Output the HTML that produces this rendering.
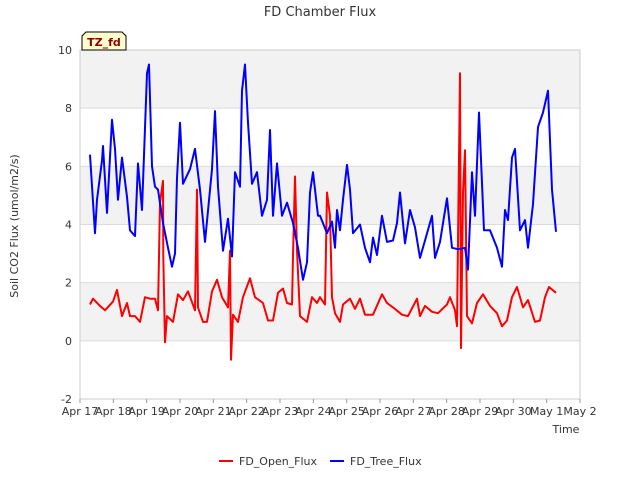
<!DOCTYPE html>
<html><head><meta charset="utf-8"><style>
body{margin:0;background:#fff;font-family:"Liberation Sans","DejaVu Sans",sans-serif}
</style></head><body>
<svg id="c" width="640" height="480" xmlns="http://www.w3.org/2000/svg" font-family="DejaVu Sans, Liberation Sans, sans-serif">
<text x="320" y="16" text-anchor="middle" font-size="13" fill="#333">FD Chamber Flux</text>
<g id="plot"></g>
<text x="566" y="433" text-anchor="middle" font-size="11" fill="#333">Time</text>
<text transform="translate(18,226) rotate(-90)" text-anchor="middle" font-size="11" fill="#333">Soil CO2 Flux (umol/m2/s)</text>
<g>
<path d="M82,36 L86,32 L122,32 L126,36 L126,50 L82,50 Z" fill="#ffffcc" stroke="#000" stroke-width="1"/>
<text x="104" y="46" text-anchor="middle" font-size="11" font-weight="bold" fill="#8b0000">TZ_fd</text>
</g>
<g>
<g><line x1="219" y1="461" x2="233" y2="461" stroke="#f00" stroke-width="2"/><text x="239" y="465" font-size="11" fill="#333">FD_Open_Flux</text></g>
<g><line x1="330" y1="461" x2="344" y2="461" stroke="#00f" stroke-width="2"/><text x="350" y="465" font-size="11" fill="#333">FD_Tree_Flux</text></g>
</g>
</svg>
<script>
const xTickLabels=["Apr 17","Apr 18","Apr 19","Apr 20","Apr 21","Apr 22","Apr 23","Apr 24","Apr 25","Apr 26","Apr 27","Apr 28","Apr 29","Apr 30","May 1","May 2"];
const yTicks=[-2,0,2,4,6,8,10];
const treeDays=[0.30,0.45,0.51,0.66,0.69,0.81,0.96,1.05,1.14,1.26,1.41,1.50,1.65,1.74,1.86,2.01,2.07,2.16,2.25,2.34,2.49,2.64,2.76,2.85,2.91,3.00,3.09,3.30,3.45,3.60,3.75,3.96,4.05,4.14,4.29,4.44,4.56,4.65,4.80,4.86,4.95,5.04,5.16,5.31,5.46,5.61,5.70,5.79,5.91,6.06,6.21,6.39,6.54,6.69,6.81,6.90,6.99,7.14,7.20,7.41,7.56,7.65,7.71,7.80,7.89,8.01,8.10,8.19,8.40,8.55,8.70,8.79,8.91,9.06,9.21,9.39,9.51,9.60,9.75,9.90,10.05,10.20,10.35,10.56,10.65,10.80,11.01,11.16,11.34,11.55,11.64,11.76,11.85,11.97,12.12,12.30,12.51,12.66,12.75,12.84,12.96,13.05,13.20,13.35,13.44,13.59,13.74,13.89,14.04,14.16,14.28];
const treeVals=[6.4,3.7,4.85,6.2,6.7,4.4,7.6,6.6,4.85,6.3,4.95,3.8,3.6,6.1,4.5,9.2,9.5,6.0,5.3,5.2,4.05,3.2,2.55,3.0,5.6,7.5,5.4,5.9,6.6,5.2,3.4,5.9,7.9,5.3,3.1,4.2,2.9,5.8,5.3,8.6,9.5,7.5,5.4,5.8,4.3,4.85,7.25,4.3,6.1,4.3,4.75,4.05,3.2,2.1,2.7,5.1,5.8,4.3,4.3,3.7,4.1,3.2,4.5,3.8,4.85,6.05,5.2,3.7,4.0,3.2,2.7,3.55,2.95,4.3,3.4,3.45,4.05,5.1,3.35,4.5,3.9,2.85,3.45,4.3,2.85,3.4,4.9,3.2,3.15,3.2,2.45,5.8,4.3,7.85,3.8,3.8,3.2,2.55,4.5,4.15,6.3,6.6,3.8,4.15,3.2,4.7,7.35,7.85,8.6,5.2,3.75];
const openDays=[0.30,0.39,0.60,0.75,0.99,1.11,1.26,1.41,1.50,1.65,1.80,1.95,2.10,2.25,2.34,2.40,2.49,2.50,2.55,2.61,2.79,2.94,3.09,3.24,3.45,3.51,3.54,3.69,3.81,3.96,4.11,4.26,4.44,4.50,4.53,4.59,4.74,4.89,5.10,5.25,5.49,5.64,5.79,5.94,6.09,6.21,6.36,6.39,6.45,6.51,6.60,6.81,6.96,7.11,7.20,7.35,7.41,7.50,7.56,7.65,7.80,7.89,8.10,8.25,8.40,8.55,8.79,9.06,9.21,9.39,9.66,9.84,10.11,10.20,10.35,10.56,10.74,11.01,11.10,11.25,11.31,11.40,11.43,11.49,11.55,11.61,11.76,11.91,12.09,12.30,12.51,12.66,12.81,12.96,13.11,13.29,13.44,13.65,13.80,13.95,14.07,14.28];
const openVals=[1.25,1.45,1.2,1.05,1.35,1.75,0.85,1.3,0.85,0.85,0.65,1.5,1.45,1.45,1.05,4.75,5.5,2.9,-0.05,0.85,0.65,1.6,1.4,1.7,1.05,5.2,1.15,0.65,0.65,1.7,2.1,1.5,1.15,3.1,-0.65,0.9,0.65,1.5,2.15,1.5,1.3,0.7,0.7,1.65,1.8,1.3,1.25,2.9,5.65,3.1,0.85,0.65,1.5,1.3,1.5,1.25,5.1,4.3,1.5,0.95,0.65,1.25,1.45,1.1,1.45,0.9,0.9,1.6,1.3,1.15,0.9,0.85,1.45,0.85,1.2,1.0,0.95,1.25,1.5,1.05,0.5,9.2,-0.25,5.1,6.55,0.85,0.6,1.3,1.6,1.2,0.95,0.5,0.7,1.5,1.85,1.15,1.4,0.65,0.7,1.5,1.85,1.65];
const NS="http://www.w3.org/2000/svg";
const L=80,R=580,T=50,B=399;
function xs(d){return L+(R-L)*d/15;}
function ys(v){return B-(B-T)*(v+2)/12;}
const plot=document.getElementById('plot');
function mk(tag,attrs){const e=document.createElementNS(NS,tag);for(const k in attrs)e.setAttribute(k,attrs[k]);plot.appendChild(e);return e;}
[[8,10],[4,6],[0,2]].forEach(b=>{const r=mk('rect',{x:L,y:ys(b[1]),width:R-L,height:ys(b[0])-ys(b[1]),fill:'#f2f2f2'});

});
yTicks.forEach(v=>{const g=mk('line',{x1:L,x2:R,y1:ys(v),y2:ys(v),stroke:'#dcdcdc','stroke-width':1});


const t=mk('text',{x:L-8,y:ys(v)+4,'text-anchor':'end','font-size':11,fill:'#333'});t.textContent=v;

});
const fr=mk('rect',{x:L,y:T,width:R-L,height:B-T,fill:'none',stroke:'#ccc'});


xTickLabels.forEach((s,i)=>{const t=mk('text',{x:xs(i),y:B+16,'text-anchor':'middle','font-size':11,fill:'#333'});t.textContent=s;


const k=mk('line',{x1:xs(i),x2:xs(i),y1:B,y2:B+4,stroke:'#999'});

});
function series(days,vals,col,name){const p=days.map((d,i)=>xs(d).toFixed(1)+','+ys(vals[i]).toFixed(1)).join(' ');
const e=mk('polyline',{points:p,fill:'none',stroke:col,'stroke-width':2,'stroke-linejoin':'round'});

}
series(openDays,openVals,'#ff0000','open-flux-line');
series(treeDays,treeVals,'#0000ff','tree-flux-line');
</script>
</body></html>
